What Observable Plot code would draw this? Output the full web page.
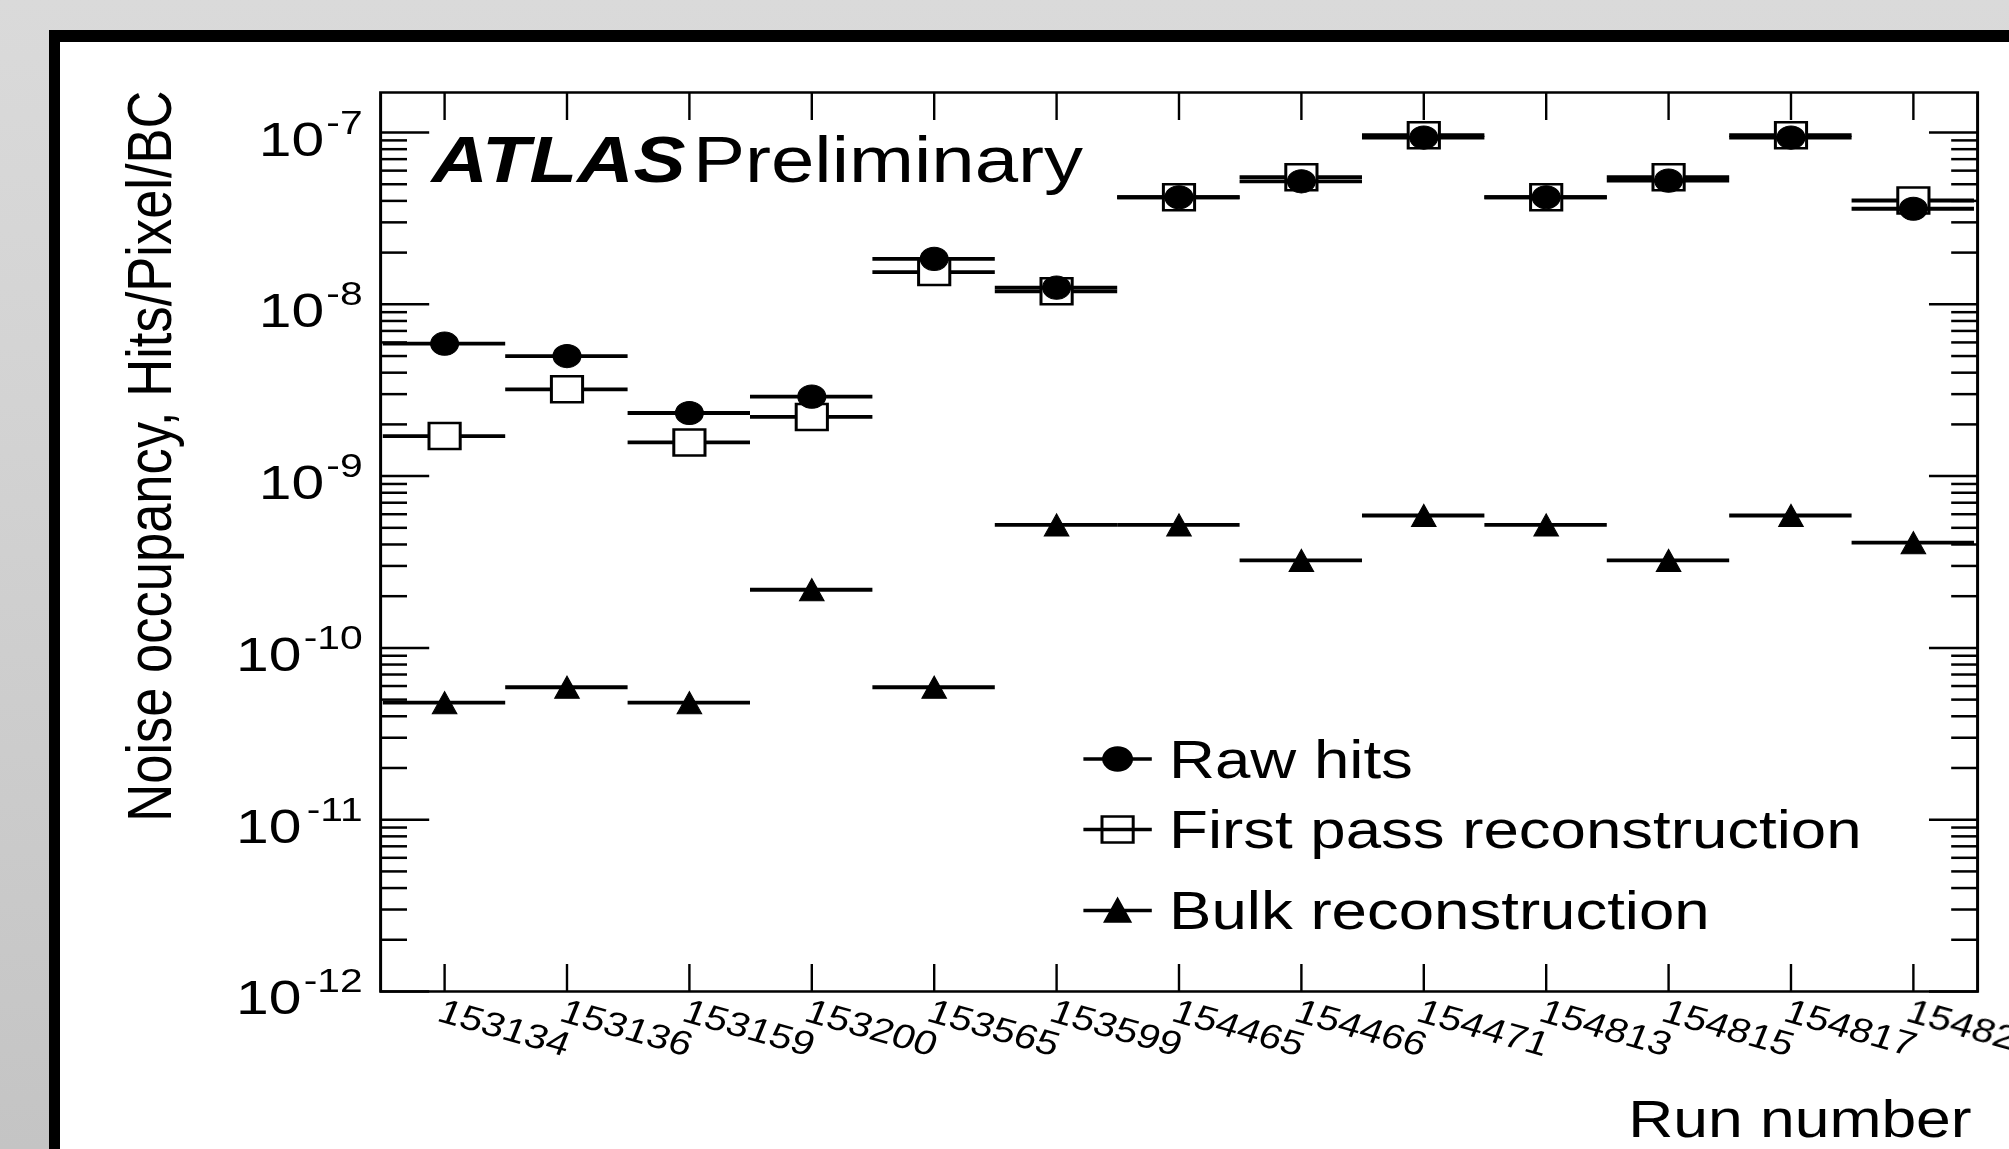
<!DOCTYPE html>
<html>
<head>
<meta charset="utf-8">
<script src="https://cdn.jsdelivr.net/npm/d3@7"></script>
<script src="https://cdn.jsdelivr.net/npm/@observablehq/plot@0.6"></script>
<style>
html, body { margin: 0; padding: 0; width: 2009px; height: 1149px; overflow: hidden; }
body { position: relative; background: linear-gradient(to bottom, #dadada 0%, #d3d3d3 35%, #c4c4c4 100%); }
#panel { position: absolute; left: 49px; top: 30px; width: 3000px; height: 3000px; background: #fff;
  border-left: 11px solid #000; border-top: 12px solid #000; }
#chart { position: absolute; left: 0; top: 0; width: 1675px; transform: scaleX(1.2); transform-origin: 0 0; }
</style>
</head>
<body>
<div id="panel"></div>
<div id="chart"></div>
<script>
// ---- data ----
const runs = ["153134","153136","153159","153200","153565","153599","154465","154466","154471","154813","154815","154817","154822"];
const rawHits   = [5.9e-9, 5.0e-9, 2.33e-9, 2.9e-9, 1.84e-8, 1.25e-8, 4.2e-8, 5.2e-8, 9.35e-8, 4.2e-8, 5.25e-8, 9.35e-8, 3.6e-8];
const firstPass = [1.71e-9, 3.2e-9, 1.57e-9, 2.21e-9, 1.54e-8, 1.19e-8, 4.2e-8, 5.5e-8, 9.65e-8, 4.2e-8, 5.5e-8, 9.65e-8, 4.02e-8];
const bulk      = [4.8e-11, 5.9e-11, 4.8e-11, 2.18e-10, 5.9e-11, 5.2e-10, 5.2e-10, 3.23e-10, 5.9e-10, 5.2e-10, 3.23e-10, 5.9e-10, 4.1e-10];
const yTickValues = [1e-12, 1e-11, 1e-10, 1e-9, 1e-8, 1e-7];
const yTickExponents = ["-12", "-11", "-10", "-9", "-8", "-7"];
const yDomain = [1e-12, 1.71e-7];
const legendLabels = ["Raw hits", "First pass reconstruction", "Bulk reconstruction"];
const xTitle = "Run number";
const yTitle = "Noise occupancy, Hits/Pixel/BC";

// ---- layout ----
const SX = 1.2;                 // horizontal stretch of the original picture
const W = 2009 / SX, H = 1149;
const mL = 380 / SX, mR = W - 1977 / SX, mT = 92, mB = H - 991;

const table = runs.map((r, i) => ({run: r, raw: rawHits[i], fp: firstPass[i], bulk: bulk[i]}));
const yTicks = yTickValues.map((v, i) => ({v, e: yTickExponents[i]}));
const minorTicks = [];
for (let e = -12; e <= -7; e++) for (let m = 2; m <= 9; m++) {
  const v = m * Math.pow(10, e);
  if (v < yDomain[1]) minorTicks.push(v);
}

// ---- symbols ----
const circleSym = {draw(c) { c.moveTo(11.6, 0); c.arc(0, 0, 11.6, 0, 2 * Math.PI); c.closePath(); }};
const squareSym = {draw(c) { c.moveTo(-13, -13); c.lineTo(13, -13); c.lineTo(13, 13); c.lineTo(-13, 13); c.closePath(); }};
const triSym = {draw(c) { c.moveTo(0, -11); c.lineTo(10.2, 11); c.lineTo(-10.2, 11); c.closePath(); }};
const legLine = {draw(c) { c.moveTo(-28.5, 0); c.lineTo(28.5, 0); }};

const blank = () => "";
const tickStyle = {stroke: "black", strokeWidth: 2.5, tickFormat: blank, label: null};

// legend
const legendRows = [
  {sym: circleSym, fill: "black", markerDy: 666.5, textDy: 686},
  {sym: squareSym, fill: "none",  markerDy: 737,   textDy: 756},
  {sym: triSym,    fill: "black", markerDy: 818,   textDy: 837}
];
const legMarkerDx = 1117 / SX - mL, legTextDx = 1168.5 / SX - mL;
const legendMarks = legendRows.flatMap((row, i) => [
  Plot.dot([0], {frameAnchor: "top-left", dx: legMarkerDx, dy: row.markerDy, symbol: legLine, stroke: "black", strokeWidth: 3.5, fill: "none"}),
  Plot.dot([0], {frameAnchor: "top-left", dx: legMarkerDx, dy: row.markerDy, symbol: row.sym, stroke: "black", strokeWidth: 2.5, fill: row.fill}),
  Plot.text([legendLabels[i]], {text: d => d, frameAnchor: "top-left", dx: legTextDx, dy: row.textDy, textAnchor: "start", lineAnchor: "bottom", fontSize: 53, fill: "black"})
]);

const chart = Plot.plot({
  width: W, height: H,
  marginLeft: mL, marginRight: mR, marginTop: mT, marginBottom: mB,
  style: {fontFamily: "'Liberation Sans', Arial, Helvetica, sans-serif", fontSize: "30px", overflow: "visible", background: "transparent", color: "black"},
  x: {type: "band", domain: runs, padding: 0},
  y: {type: "log", domain: yDomain},
  marks: [
    // axis ticks (inward)
    Plot.axisX({anchor: "bottom", tickSize: -27, ...tickStyle, strokeWidth: 2}),
    Plot.axisX({anchor: "top", tickSize: -27, ...tickStyle, strokeWidth: 2}),
    Plot.axisY({anchor: "left", ticks: yTickValues, tickSize: -41, ...tickStyle}),
    Plot.axisY({anchor: "left", ticks: minorTicks, tickSize: -22.5, ...tickStyle}),
    Plot.axisY({anchor: "right", ticks: yTickValues, tickSize: -41, ...tickStyle}),
    Plot.axisY({anchor: "right", ticks: minorTicks, tickSize: -22.5, ...tickStyle}),
    Plot.frame({stroke: "black", strokeWidth: 2.5}),
    // x "error bars" spanning each bin
    Plot.tickY(table, {x: "run", y: "fp", stroke: "black", strokeWidth: 3.8}),
    Plot.dot(table, {x: "run", y: "fp", symbol: squareSym, fill: "white", stroke: "black", strokeWidth: 2.5}),
    Plot.tickY(table, {x: "run", y: "raw", stroke: "black", strokeWidth: 3.8}),
    Plot.tickY(table, {x: "run", y: "bulk", stroke: "black", strokeWidth: 3.8}),
    Plot.dot(table, {x: "run", y: "raw", symbol: circleSym, fill: "black", stroke: "black", strokeWidth: 1}),
    Plot.dot(table, {x: "run", y: "bulk", symbol: triSym, fill: "black", stroke: "black", strokeWidth: 1}),
    // y tick labels 10^e
    Plot.text(yTicks.filter(d => d.e.length === 2), {y: "v", text: () => "10", frameAnchor: "left", textAnchor: "end", lineAnchor: "bottom", dx: -47, dy: 23, fontSize: 49, fill: "black"}),
    Plot.text(yTicks.filter(d => d.e.length === 3), {y: "v", text: () => "10", frameAnchor: "left", textAnchor: "end", lineAnchor: "bottom", dx: -66, dy: 23, fontSize: 49, fill: "black"}),
    Plot.text(yTicks, {y: "v", text: "e", frameAnchor: "left", textAnchor: "end", lineAnchor: "bottom", dx: -15, dy: 1, fontSize: 34, fill: "black"}),
    // x tick labels
    Plot.text(runs, {x: d => d, text: d => d, frameAnchor: "bottom", rotate: 18.5, textAnchor: "start", lineAnchor: "top", dy: 6, fontSize: 34, fill: "black"}),
    // titles
    Plot.text([xTitle], {text: d => d, frameAnchor: "bottom-right", textAnchor: "end", lineAnchor: "bottom", dx: -5, dy: 146, fontSize: 52, fill: "black"}),
    Plot.text([yTitle], {text: d => d, frameAnchor: "top-left", rotate: -90, textAnchor: "end", lineAnchor: "bottom", dx: 141.7 - mL, dy: -2, fontSize: 52.5, fill: "black"}),
    Plot.text(["ATLAS"], {text: d => d, frameAnchor: "top-left", textAnchor: "start", lineAnchor: "bottom", dx: 359 - mL, dy: 90, fontSize: 65, fontWeight: "bold", fontStyle: "italic", fill: "black"}),
    Plot.text(["Preliminary"], {text: d => d, frameAnchor: "top-left", textAnchor: "start", lineAnchor: "bottom", dx: 577 - mL, dy: 90, fontSize: 65, fill: "black"}),
    ...legendMarks
  ]
});
document.getElementById("chart").appendChild(chart);
</script>
</body>
</html>
